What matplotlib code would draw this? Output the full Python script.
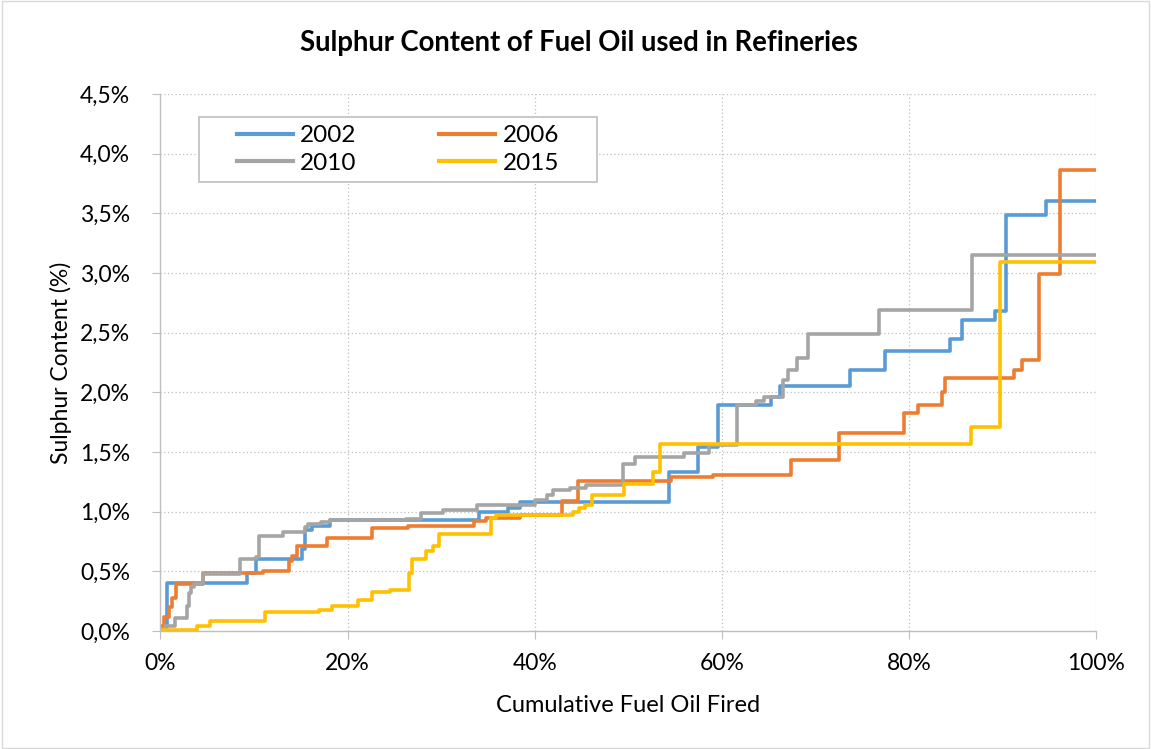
import numpy as np
import matplotlib
matplotlib.use("Agg")
import matplotlib.pyplot as plt
from matplotlib.ticker import FuncFormatter, MultipleLocator

plt.rcParams['font.family'] = ['Lato', 'DejaVu Sans']

# step data: cumulative fuel oil fired (%) -> sulphur content (%)
x_2002 = [0, 0.7, 9.2, 10.2, 15.1, 15.4, 16.2, 18.1, 34.1, 37.1, 38.4, 54.4, 57.5, 59.6,
          65.3, 66.2, 73.7, 77.4, 84.4, 85.7, 89.2, 90.4, 94.7, 100]
y_2002 = [0.03, 0.40, 0.49, 0.60, 0.69, 0.85, 0.88, 0.93, 1.00, 1.03, 1.08, 1.33, 1.54, 1.89,
          1.96, 2.05, 2.19, 2.35, 2.45, 2.61, 2.68, 3.49, 3.60, 3.60]

x_2006 = [0, 0.4, 0.9, 1.2, 1.7, 4.6, 11.0, 13.7, 14.1, 14.55, 17.8, 22.6, 26.5, 33.5, 34.8,
          38.4, 42.9, 44.6, 54.6, 59.1, 67.4, 72.5, 79.5, 81.0, 83.5, 83.9, 91.2, 92.1, 93.9,
          96.2, 100]
y_2006 = [0.04, 0.12, 0.20, 0.28, 0.39, 0.49, 0.50, 0.59, 0.63, 0.71, 0.78, 0.86, 0.88, 0.92, 0.95,
          0.97, 1.09, 1.26, 1.29, 1.31, 1.43, 1.66, 1.83, 1.89, 2.00, 2.12, 2.19, 2.27, 2.99,
          3.86, 3.86]

x_2010 = [0, 0.5, 1.55, 2.8, 3.0, 3.3, 3.6, 4.5, 8.5, 10.2, 10.5, 13.1, 15.4, 15.8, 17.2, 18.1,
          26.3, 27.9, 30.2, 33.8, 40.0, 41.3, 42.0, 43.75, 45.5, 49.4, 50.7, 56.0, 58.6, 61.6,
          63.7, 64.5, 66.5, 67.1, 68.0, 69.2, 76.8, 86.7, 100]
y_2010 = [0.02, 0.04, 0.11, 0.21, 0.32, 0.37, 0.39, 0.48, 0.60, 0.62, 0.80, 0.83, 0.87, 0.90, 0.91, 0.93,
          0.94, 0.99, 1.01, 1.06, 1.10, 1.14, 1.18, 1.20, 1.22, 1.40, 1.46, 1.49, 1.56, 1.89,
          1.93, 1.96, 2.10, 2.19, 2.29, 2.49, 2.69, 3.15, 3.15]

x_2015 = [0, 3.9, 5.3, 11.2, 16.9, 18.3, 21.1, 22.6, 24.5, 26.6, 26.9, 28.4, 29.1, 29.8, 35.3,
          35.9, 44.1, 44.7, 45.35, 46.1, 49.6, 52.6, 53.4, 86.6, 89.7, 100]
y_2015 = [0.01, 0.04, 0.08, 0.16, 0.18, 0.21, 0.26, 0.33, 0.34, 0.49, 0.60, 0.67, 0.71, 0.81, 0.95,
          0.97, 1.00, 1.03, 1.06, 1.14, 1.23, 1.33, 1.57, 1.71, 3.09, 3.09]

series = [("2002", x_2002, y_2002, "#5B9BD5"),
          ("2006", x_2006, y_2006, "#ED7D31"),
          ("2010", x_2010, y_2010, "#A5A5A5"),
          ("2015", x_2015, y_2015, "#FFC000")]

fig = plt.figure(figsize=(11.51, 7.49), dpi=100)
ax = fig.add_axes([0.1394, 0.1575, 0.8128, 0.717])

handles = {}
for name, xs, ys, col in series:
    h, = ax.plot(xs, ys, drawstyle='steps-post', color=col, lw=2.6, label=name)
    handles[name] = h

ax.set_xlim(0, 100)
ax.set_ylim(0, 4.5)
ax.xaxis.set_major_locator(MultipleLocator(20))
ax.yaxis.set_major_locator(MultipleLocator(0.5))
ax.xaxis.set_major_formatter(FuncFormatter(lambda v, p: f"{v:.0f}%"))
ax.yaxis.set_major_formatter(FuncFormatter(lambda v, p: f"{v:.1f}%".replace('.', ',')))

ax.grid(True, color='#BFBFBF', linestyle=(0, (1, 2)), lw=0.9)
ax.set_axisbelow(True)
for s in ['top', 'right']:
    ax.spines[s].set_visible(False)
for s in ['left', 'bottom']:
    ax.spines[s].set_color('#BFBFBF')
    ax.spines[s].set_linewidth(1.0)
ax.tick_params(axis='both', length=6, color='#BFBFBF', labelsize=16.5)
ax.tick_params(axis='y', pad=16)
ax.tick_params(axis='x', pad=10)

ax.set_xlabel("Cumulative Fuel Oil Fired", fontsize=17, va='top')
ax.xaxis.set_label_coords(0.5, -0.12)
ax.set_ylabel("Sulphur Content (%)", fontsize=16.5)
ax.yaxis.set_label_coords(-0.095, 0.5)
fig.text(0.503, 0.942, "Sulphur Content of Fuel Oil used in Refineries",
         ha='center', va='center', fontsize=19.8, fontweight='bold')

# legend: frame drawn as a box, entries row-wise 2002/2006, 2010/2015
ax.add_patch(plt.Rectangle((0.041, 0.836), 0.4254, 0.121, transform=ax.transAxes,
                           facecolor='white', edgecolor='#BFBFBF', lw=1.2, zorder=5))
order = ["2002", "2010", "2006", "2015"]
leg = ax.legend([handles[k] for k in order], order, loc='center', bbox_to_anchor=(0.2539, 0.8966),
                ncol=2, fontsize=17.5, frameon=False, handlelength=2.3, handletextpad=0.3,
                columnspacing=3.4, labelspacing=0.25, borderpad=0, borderaxespad=0)
leg.set_zorder(6)
for line in leg.get_lines():
    line.set_linewidth(3)

# outer chart border
fig.patches.append(plt.Rectangle((0.002, 0.002), 0.996, 0.996, transform=fig.transFigure,
                                 fill=False, edgecolor='#D9D9D9', lw=1))

fig.savefig("out.png", dpi=100)
